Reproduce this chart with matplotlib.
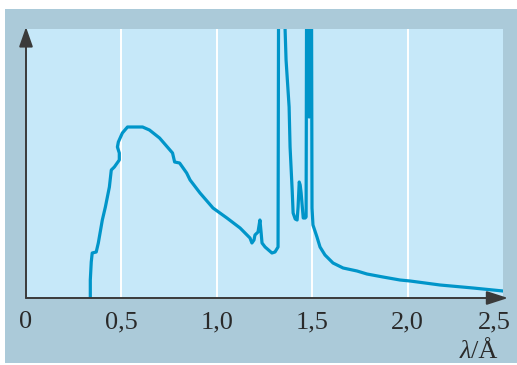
import matplotlib
matplotlib.use("Agg")
import matplotlib.pyplot as plt
from matplotlib.patches import Rectangle
from matplotlib.transforms import offset_copy

# wavelength (Angstrom) and intensity (arbitrary units)
lam = [0.337, 0.337, 0.342, 0.347, 0.368, 0.379, 0.400, 0.416, 0.437, 0.447,
       0.463, 0.489, 0.489, 0.479, 0.484, 0.505, 0.532, 0.611, 0.647, 0.700,
       0.768, 0.779, 0.805, 0.842, 0.860, 0.912, 0.980, 1.053, 1.122, 1.174,
       1.184, 1.195, 1.200, 1.216, 1.226, 1.232, 1.237, 1.253, 1.289, 1.305,
       1.321, 1.326, 1.353, 1.358, 1.363, 1.379, 1.384, 1.395, 1.400, 1.411,
       1.421, 1.426, 1.432, 1.437, 1.442, 1.453, 1.463, 1.468, 1.473, 1.478,
       1.484, 1.489, 1.494, 1.499, 1.504, 1.525, 1.541, 1.567, 1.609, 1.662,
       1.735, 1.787, 1.871, 1.960, 2.013, 2.170, 2.343, 2.500]
intensity = [0, 18, 36, 45, 46, 55, 78, 91, 111, 128,
             131, 138, 145, 151, 156, 165, 171, 171, 168, 160,
             145, 136, 135, 125, 118, 105, 90, 80, 70, 60,
             55, 58, 63, 66, 78, 66, 55, 51, 45, 46,
             51, 500, 500, 268, 238, 191, 151, 108, 85, 79,
             78, 91, 116, 113, 105, 80, 80, 81, 500, 500,
             181, 500, 500, 90, 73, 61, 51, 43, 35, 30,
             27, 24, 21, 18, 17, 13, 10, 7]

tick_vals = [0, 0.5, 1.0, 1.5, 2.0, 2.5]
tick_labels = ["0", "0,5", "1,0", "1,5", "2,0", "2,5"]
grid_vals = [0.5, 1.0, 1.5, 2.0]

W, H = 517, 365
fig = plt.figure(figsize=(W / 100, H / 100), dpi=100, facecolor="white")
fig.patches.append(Rectangle((5 / W, 2 / H), 512 / W, 354 / H,
                             transform=fig.transFigure, facecolor="#abcad9",
                             edgecolor="none", zorder=-5))

ax = fig.add_axes([26 / W, (H - 298) / H, 477 / W, 269 / H])
ax.set_zorder(2)
ax.set_facecolor("#c6e8f9")
ax.set_xlim(0, 2.5)
ax.set_ylim(0, 269)
for s in ax.spines.values():
    s.set_visible(False)
ax.set_xticks([])
ax.set_yticks([])

for g in grid_vals:
    ax.axvline(g, color="white", lw=1.4, zorder=1)

ax.plot(lam, intensity, color="#0095c9", lw=2.3, solid_joinstyle="round",
        zorder=3)

axc = "#3a3a3a"
ax.annotate("", xy=(1.0 + 5 / 477, 0), xytext=(0, 0),
            xycoords="axes fraction", textcoords="axes fraction",
            arrowprops=dict(arrowstyle="-|>,head_length=1.3,head_width=0.42",
                            mutation_scale=10, color=axc, lw=1.4,
                            shrinkA=0, shrinkB=0), annotation_clip=False,
            zorder=4)
ax.annotate("", xy=(0, 1.0 + 2 / 269), xytext=(0, 0),
            xycoords="axes fraction", textcoords="axes fraction",
            arrowprops=dict(arrowstyle="-|>,head_length=1.2,head_width=0.42",
                            mutation_scale=10, color=axc, lw=1.4,
                            shrinkA=0, shrinkB=0), annotation_clip=False,
            zorder=4)

tr = ax.get_xaxis_transform()
for v, t in zip(tick_vals, tick_labels):
    dx = -9 if v == tick_vals[-1] else 0
    ax.text(v, -30 / 269, t, transform=offset_copy(tr, fig=fig, x=dx, y=0, units="dots"),
            ha="center", va="baseline", fontsize=19, family="Liberation Serif",
            color="#2a2a2a")

ax.text(2.332, -60 / 269, "λ", transform=tr, ha="right", va="baseline",
        fontsize=19, family="Liberation Serif", style="italic", color="#2a2a2a")
ax.text(2.332, -60 / 269, "/Å", transform=tr, ha="left", va="baseline",
        fontsize=19, family="Liberation Serif", color="#2a2a2a")

fig.savefig("out.png", dpi=100, facecolor="white")
